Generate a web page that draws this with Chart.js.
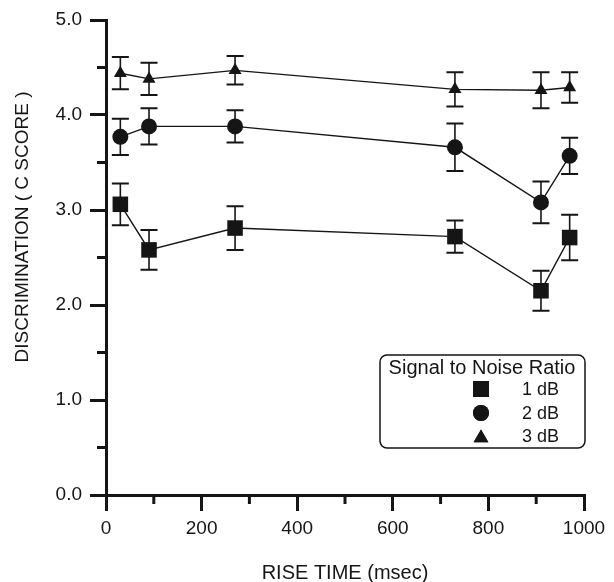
<!DOCTYPE html>
<html><head><meta charset="utf-8">
<script src="https://cdn.jsdelivr.net/npm/chart.js@4/dist/chart.umd.min.js"></script>
<style>html,body{margin:0;padding:0;background:#fff}#wrap{width:614px;height:582px}</style>
</head><body><div id="wrap"><canvas id="c" width="614" height="582"></canvas></div>
<script>
// ---- data ----
const riseTime = [30, 90, 270, 730, 910, 970];
const snr1 = [3.06, 2.58, 2.81, 2.72, 2.15, 2.71];
const snr1Err = [0.22, 0.21, 0.23, 0.17, 0.21, 0.24];
const snr2 = [3.77, 3.88, 3.88, 3.66, 3.08, 3.57];
const snr2Err = [0.19, 0.19, 0.17, 0.25, 0.22, 0.19];
const snr3 = [4.44, 4.38, 4.47, 4.27, 4.26, 4.29];
const snr3Err = [0.17, 0.17, 0.15, 0.18, 0.19, 0.16];
const seriesLabels = ['1 dB', '2 dB', '3 dB'];
const seriesShapes = ['rect', 'circle', 'triangle'];
const legendTitle = 'Signal to Noise Ratio';
const xTitle = 'RISE TIME (msec)';
const yTitle = 'DISCRIMINATION ( C SCORE )';
const xMinorTicks = [100, 300, 500, 700, 900];
const yMinorTicks = [0.5, 1.5, 2.5, 3.5, 4.5];

const INK = '#151515';
const FONT = '"Liberation Sans", Arial, Helvetica, sans-serif';

function pts(ys) { return riseTime.map((x, i) => ({ x: x, y: ys[i] })); }
const radii = { rect: 11, circle: 8, triangle: 7.5 };
const allVals = [snr1, snr2, snr3];
const allErrs = [snr1Err, snr2Err, snr3Err];

const datasets = allVals.map((v, i) => ({
  label: seriesLabels[i],
  data: pts(v),
  errors: allErrs[i],
  borderColor: INK,
  backgroundColor: INK,
  borderWidth: 1.4,
  pointStyle: seriesShapes[i],
  pointRadius: radii[seriesShapes[i]],
  pointBorderWidth: 0,
  pointBackgroundColor: INK,
  tension: 0
}));

const errorBars = {
  id: 'errorBars',
  beforeDatasetsDraw(chart) {
    const ctx = chart.ctx, xs = chart.scales.x, ys = chart.scales.y;
    ctx.save();
    ctx.strokeStyle = INK;
    chart.data.datasets.forEach(ds => {
      ds.data.forEach((p, j) => {
        const e = ds.errors[j];
        const x = xs.getPixelForValue(p.x);
        const yt = ys.getPixelForValue(p.y + e);
        const yb = ys.getPixelForValue(p.y - e);
        ctx.lineWidth = 1.6;
        ctx.beginPath(); ctx.moveTo(x, yt); ctx.lineTo(x, yb); ctx.stroke();
        ctx.lineWidth = 2;
        ctx.beginPath();
        ctx.moveTo(x - 8.5, yt); ctx.lineTo(x + 8.5, yt);
        ctx.moveTo(x - 8.5, yb); ctx.lineTo(x + 8.5, yb);
        ctx.stroke();
      });
    });
    ctx.restore();
  }
};

const extras = {
  id: 'extras',
  afterDraw(chart) {
    const ctx = chart.ctx, xs = chart.scales.x, ys = chart.scales.y;
    const ca = chart.chartArea;
    ctx.save();
    ctx.strokeStyle = INK; ctx.fillStyle = INK;
    // minor ticks
    ctx.lineWidth = 3;
    yMinorTicks.forEach(v => {
      const y = ys.getPixelForValue(v);
      ctx.beginPath(); ctx.moveTo(ca.left - 9, y); ctx.lineTo(ca.left, y); ctx.stroke();
    });
    xMinorTicks.forEach(v => {
      const x = xs.getPixelForValue(v);
      ctx.beginPath(); ctx.moveTo(x, ca.bottom); ctx.lineTo(x, ca.bottom + 9); ctx.stroke();
    });
    // axis titles
    ctx.font = '20px ' + FONT;
    ctx.textAlign = 'center'; ctx.textBaseline = 'middle';
    ctx.fillText(xTitle, (ca.left + ca.right) / 2, 573);
    ctx.save();
    ctx.translate(23, 227);
    ctx.rotate(-Math.PI / 2);
    ctx.font = '19px ' + FONT;
    ctx.fillText(yTitle, 0, 0);
    ctx.restore();
    // legend
    const bx = 380, by = 355, bw = 205, bh = 93;
    ctx.lineWidth = 1.5;
    ctx.beginPath();
    ctx.roundRect(bx, by, bw, bh, 7);
    ctx.fillStyle = '#fff'; ctx.fill();
    ctx.stroke();
    ctx.fillStyle = INK;
    ctx.font = '20px ' + FONT;
    ctx.textAlign = 'center';
    ctx.fillText(legendTitle, 482, 368);
    const rowY = [389, 413, 436];
    const lr = { rect: 11.3, circle: 8, triangle: 8.5 };
    chart.data.datasets.forEach((ds, i) => {
      Chart.helpers.drawPoint(ctx, { pointStyle: ds.pointStyle, radius: lr[ds.pointStyle], borderWidth: 0 }, 481, rowY[i] + (ds.pointStyle === 'triangle' ? 2 : 0));
      ctx.fill();
      ctx.font = '18px ' + FONT;
      ctx.textAlign = 'left';
      ctx.fillText(ds.label, 522, rowY[i] + 1);
    });
    ctx.restore();
  }
};

new Chart(document.getElementById('c'), {
  type: 'line',
  data: { datasets: datasets },
  plugins: [errorBars, extras],
  options: {
    responsive: false,
    animation: false,
    devicePixelRatio: 1,
    layout: { padding: { left: 0, right: 30, top: 20, bottom: 0 } },
    plugins: { legend: { display: false }, tooltip: { enabled: false } },
    scales: {
      x: {
        type: 'linear', min: 0, max: 1000,
        ticks: { stepSize: 200, color: INK, font: { family: FONT, size: 19 }, padding: 6, maxRotation: 0, callback: v => String(v) },
        grid: { drawOnChartArea: false, drawTicks: true, tickLength: 16, lineWidth: 3, color: INK },
        border: { display: true, width: 3, color: INK },
        afterFit(s) { s.height = 87; }
      },
      y: {
        type: 'linear', min: 0, max: 5,
        ticks: { stepSize: 1, color: INK, font: { family: FONT, size: 19 }, padding: 8, callback: v => Number(v).toFixed(1) },
        grid: { drawOnChartArea: false, drawTicks: true, tickLength: 16, lineWidth: 3, color: INK },
        border: { display: true, width: 3, color: INK },
        afterFit(s) { s.width = 106; }
      }
    }
  }
});
</script>
</body></html>
